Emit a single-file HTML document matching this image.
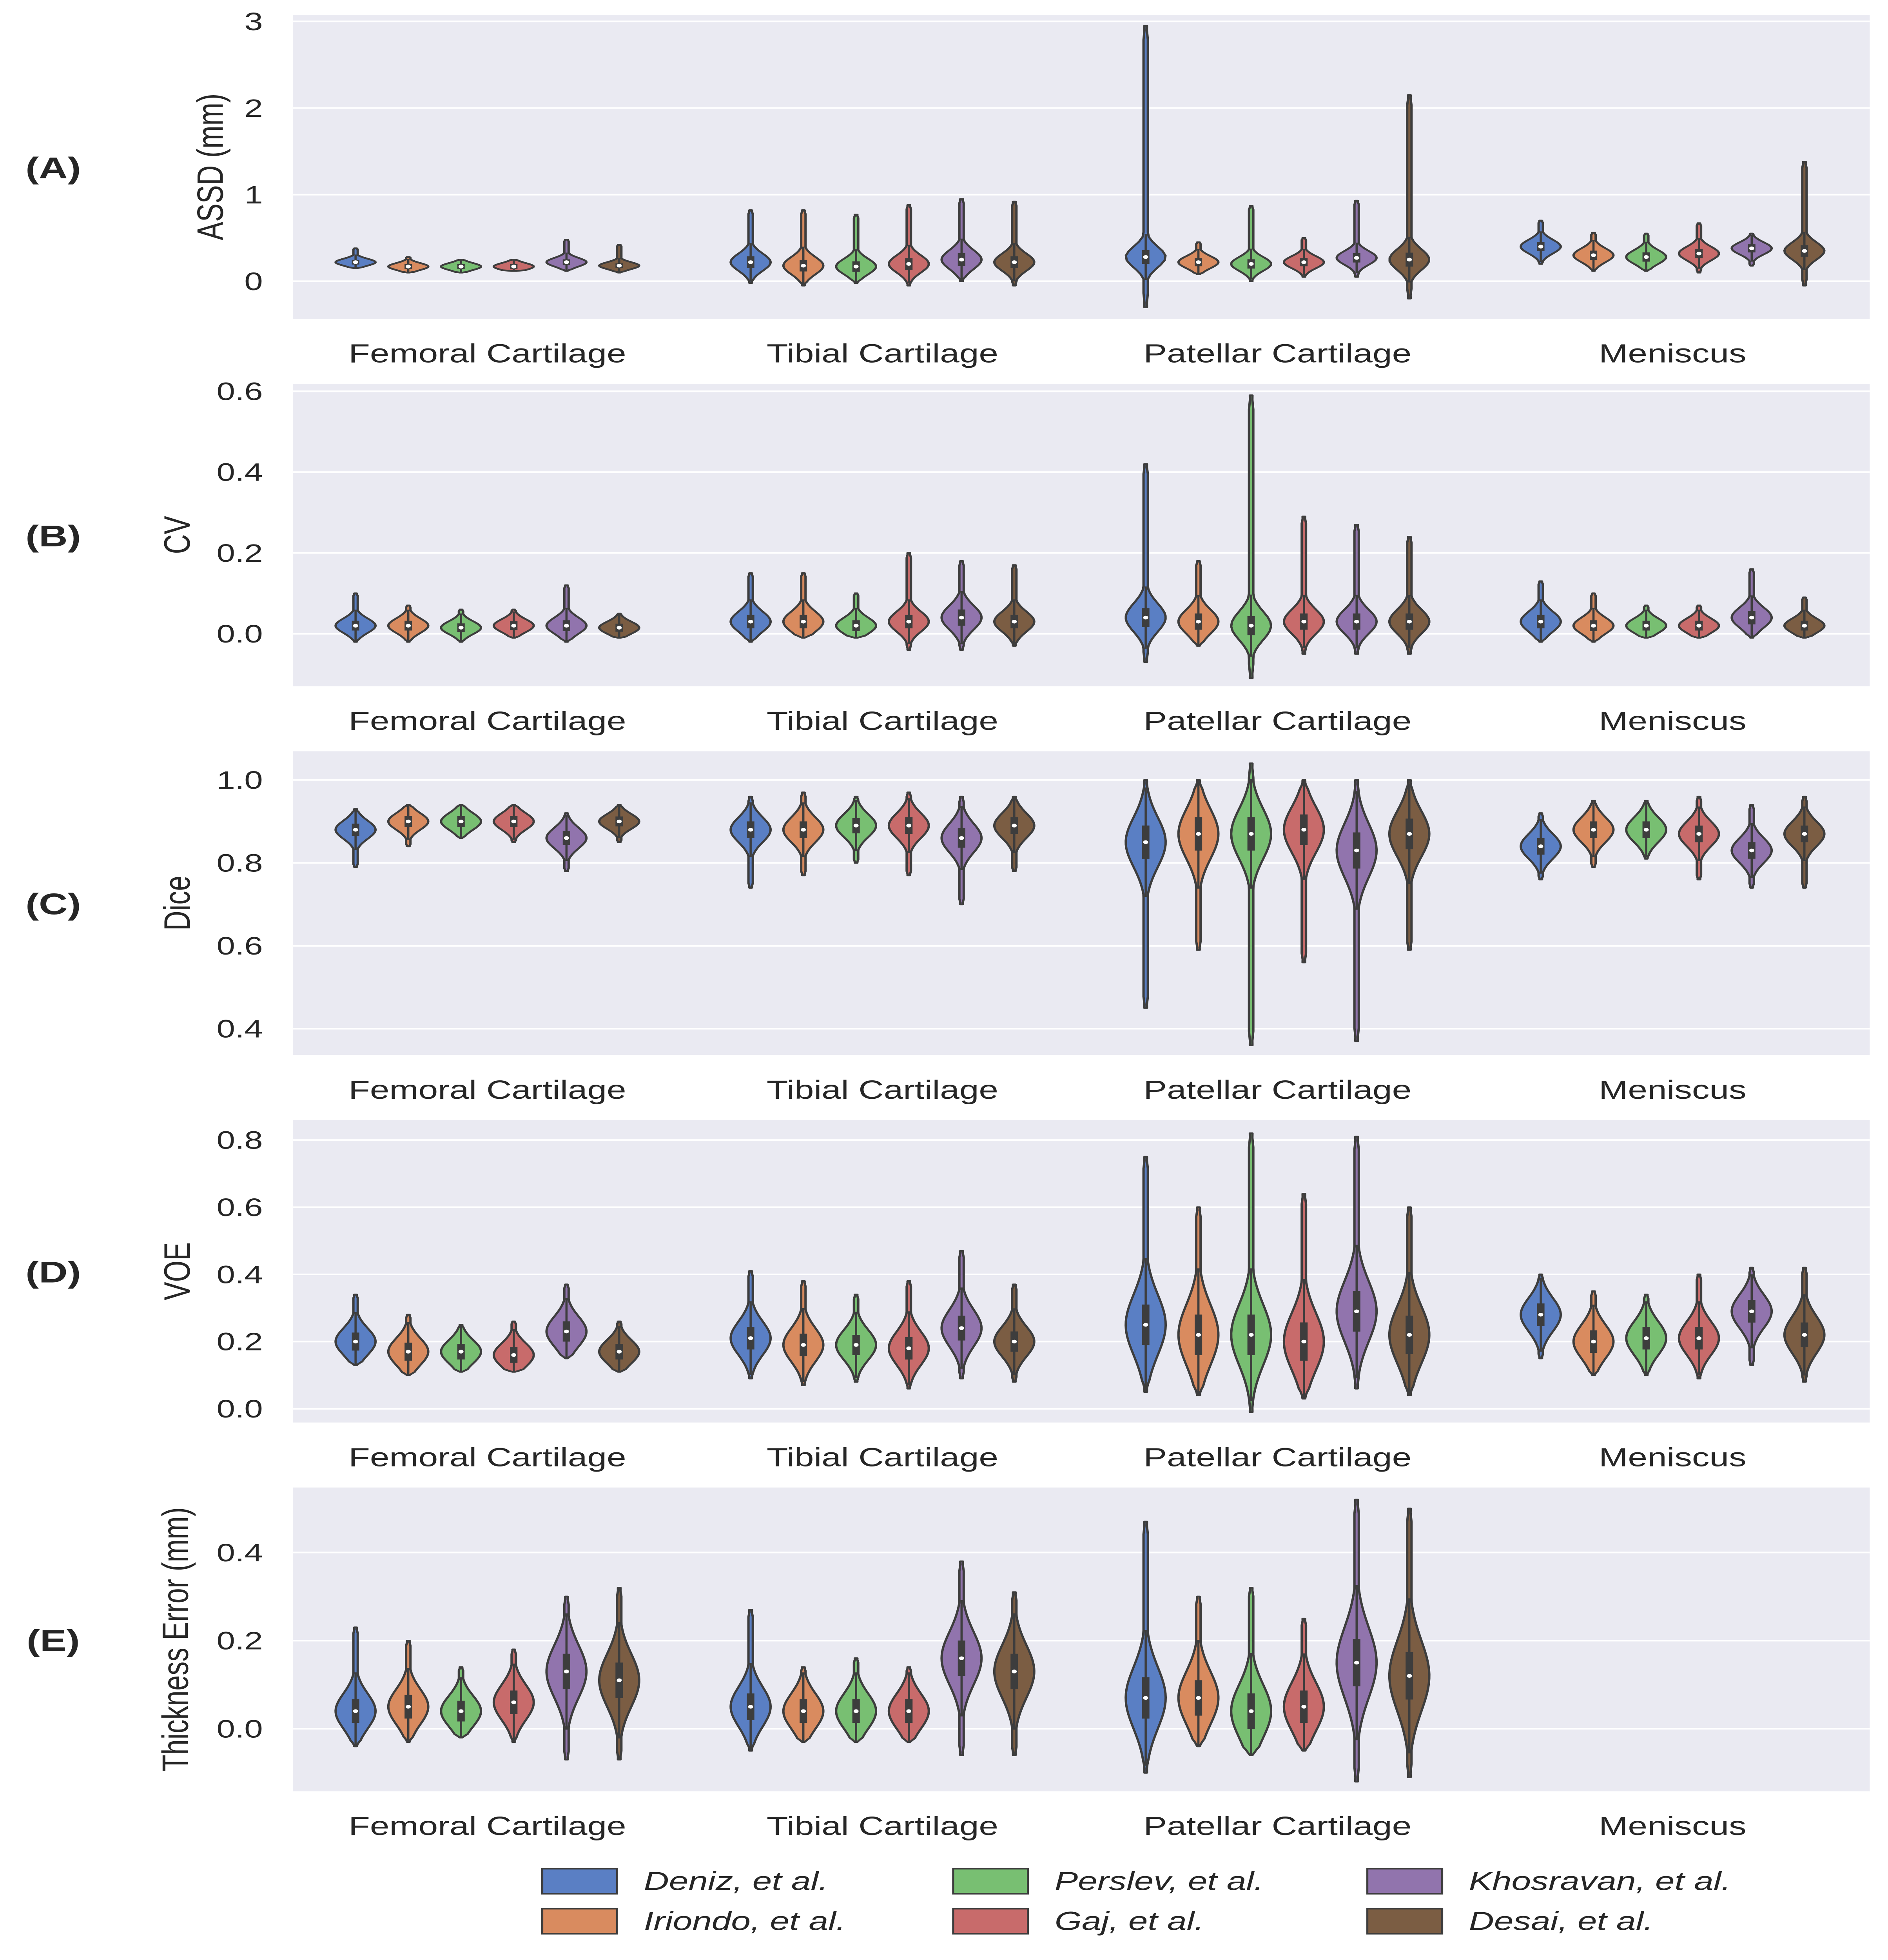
<!DOCTYPE html>
<html><head><meta charset="utf-8"><style>
html,body{margin:0;padding:0;background:#fff;width:100%;height:100%;overflow:hidden;}
svg{display:block;width:100vw;height:100vh;font-family:"Liberation Sans","DejaVu Sans",sans-serif;}
</style></head><body>
<svg id="chart" viewBox="0 0 1135 1568" preserveAspectRatio="none" xmlns="http://www.w3.org/2000/svg"></svg>
<script>
const categories = ["Femoral Cartilage","Tibial Cartilage","Patellar Cartilage","Meniscus"];
const methods = ["Deniz, et al.","Iriondo, et al.","Perslev, et al.","Gaj, et al.","Khosravan, et al.","Desai, et al."];
const colors = ["#5a7fc4","#d98b5f","#78bf72","#c86b6b","#9174ad","#7b5d43"];
const panelLabels = ["(A)","(B)","(C)","(D)","(E)"];
const yTitles = ["ASSD (mm)","CV","Dice","VOE","Thickness Error (mm)"];
const tickA = [0,1,2,3], tickB = [0.0,0.2,0.4,0.6], tickC = [0.4,0.6,0.8,1.0], tickD = [0.0,0.2,0.4,0.6,0.8], tickE = [0.0,0.2,0.4];
const tickLabelsA = ["0","1","2","3"], tickLabelsB = ["0.0","0.2","0.4","0.6"], tickLabelsC = ["0.4","0.6","0.8","1.0"], tickLabelsD = ["0.0","0.2","0.4","0.6","0.8"], tickLabelsE = ["0.0","0.2","0.4"];
const medA = [0.22,0.17,0.17,0.17,0.22,0.18, 0.22,0.18,0.17,0.2,0.25,0.22, 0.28,0.22,0.2,0.22,0.27,0.25, 0.4,0.3,0.28,0.32,0.38,0.35];
const minA = [0.15,0.1,0.1,0.12,0.12,0.1, -0.02,-0.05,-0.02,-0.05,0,-0.05, -0.3,0.08,0,0.05,0.05,-0.2, 0.2,0.12,0.12,0.1,0.18,-0.05];
const maxA = [0.38,0.28,0.25,0.25,0.48,0.42, 0.82,0.82,0.77,0.88,0.95,0.92, 2.95,0.45,0.87,0.5,0.93,2.15, 0.7,0.56,0.55,0.67,0.55,1.38];
const sdA  = [0.04,0.04,0.04,0.04,0.05,0.04, 0.1,0.1,0.09,0.1,0.11,0.1, 0.12,0.07,0.08,0.07,0.08,0.12, 0.08,0.08,0.08,0.08,0.07,0.1];
const medB = [0.02,0.02,0.015,0.02,0.02,0.015, 0.03,0.03,0.02,0.03,0.04,0.03, 0.04,0.03,0.02,0.03,0.03,0.03, 0.03,0.02,0.02,0.02,0.04,0.02];
const minB = [-0.02,-0.02,-0.02,-0.01,-0.02,-0.01, -0.02,-0.01,-0.01,-0.04,-0.04,-0.03, -0.07,-0.03,-0.11,-0.05,-0.05,-0.05, -0.02,-0.02,-0.01,-0.01,-0.01,-0.01];
const maxB = [0.1,0.07,0.06,0.06,0.12,0.05, 0.15,0.15,0.1,0.2,0.18,0.17, 0.42,0.18,0.59,0.29,0.27,0.24, 0.13,0.1,0.07,0.07,0.16,0.09];
const sdB  = [0.018,0.018,0.016,0.016,0.02,0.015, 0.025,0.025,0.02,0.025,0.03,0.025, 0.035,0.03,0.035,0.03,0.03,0.03, 0.025,0.02,0.018,0.018,0.025,0.018];
const medC = [0.88,0.9,0.9,0.9,0.86,0.9, 0.88,0.88,0.89,0.89,0.86,0.89, 0.85,0.87,0.87,0.88,0.83,0.87, 0.84,0.88,0.88,0.87,0.83,0.87];
const minC = [0.79,0.84,0.86,0.85,0.78,0.85, 0.74,0.77,0.8,0.77,0.7,0.78, 0.45,0.59,0.36,0.56,0.37,0.59, 0.76,0.79,0.81,0.76,0.74,0.74];
const maxC = [0.93,0.94,0.94,0.94,0.92,0.94, 0.96,0.97,0.96,0.97,0.96,0.96, 1.0,1.0,1.04,1.0,1.0,1.0, 0.92,0.95,0.95,0.96,0.94,0.96];
const sdC  = [0.022,0.02,0.02,0.02,0.025,0.018, 0.03,0.03,0.028,0.03,0.035,0.03, 0.06,0.06,0.06,0.055,0.065,0.055, 0.03,0.03,0.03,0.03,0.03,0.03];
const medD = [0.2,0.17,0.17,0.16,0.23,0.17, 0.21,0.19,0.19,0.18,0.24,0.2, 0.25,0.22,0.22,0.2,0.29,0.22, 0.28,0.2,0.21,0.21,0.29,0.22];
const minD = [0.13,0.1,0.11,0.11,0.15,0.11, 0.09,0.07,0.08,0.06,0.09,0.08, 0.05,0.04,-0.01,0.03,0.06,0.04, 0.15,0.1,0.1,0.09,0.13,0.08];
const maxD = [0.34,0.28,0.25,0.26,0.37,0.26, 0.41,0.38,0.34,0.38,0.47,0.37, 0.75,0.6,0.82,0.64,0.81,0.6, 0.4,0.35,0.34,0.4,0.42,0.42];
const sdD  = [0.04,0.04,0.035,0.035,0.045,0.035, 0.05,0.05,0.045,0.05,0.055,0.045, 0.09,0.09,0.09,0.085,0.09,0.085, 0.05,0.05,0.05,0.05,0.05,0.055];
const medE = [0.04,0.05,0.04,0.06,0.13,0.11, 0.05,0.04,0.04,0.04,0.16,0.13, 0.07,0.07,0.04,0.05,0.15,0.12];
const minE = [-0.04,-0.03,-0.02,-0.03,-0.07,-0.07, -0.05,-0.03,-0.03,-0.03,-0.06,-0.06, -0.1,-0.04,-0.06,-0.05,-0.12,-0.11];
const maxE = [0.23,0.2,0.14,0.18,0.3,0.32, 0.27,0.14,0.16,0.14,0.38,0.31, 0.47,0.3,0.32,0.25,0.52,0.5];
const sdE  = [0.04,0.04,0.035,0.04,0.06,0.06, 0.045,0.04,0.04,0.04,0.06,0.06, 0.07,0.06,0.06,0.055,0.08,0.08];

const panels = [
 {top:12,bot:255,v0:0,p0:225,scale:69.3,ticks:tickA,tl:tickLabelsA,med:medA,mn:minA,mx:maxA,sd:sdA,w:12,tx:126},
 {top:307,bot:549,v0:0,p0:507,scale:323.3,ticks:tickB,tl:tickLabelsB,med:medB,mn:minB,mx:maxB,sd:sdB,w:12,tx:106},
 {top:601,bot:844,v0:0.4,p0:823,scale:331.7,ticks:tickC,tl:tickLabelsC,med:medC,mn:minC,mx:maxC,sd:sdC,w:12,tx:106},
 {top:896,bot:1138,v0:0,p0:1127,scale:268.75,ticks:tickD,tl:tickLabelsD,med:medD,mn:minD,mx:maxD,sd:sdD,w:12,tx:106},
 {top:1190,bot:1433,v0:0,p0:1383,scale:352.5,ticks:tickE,tl:tickLabelsE,med:medE,mn:minE,mx:maxE,sd:sdE,w:12,tx:105}
];
const svg = document.getElementById('chart');
const NS = "http://www.w3.org/2000/svg";
function mk(tag, attrs, parent){const e=document.createElementNS(NS,tag);for(const k in attrs)e.setAttribute(k,attrs[k]);(parent||svg).appendChild(e);return e;}
const X0=176, X1=1124, catStep=237.5, catStart=293, slot=31.7;
function xCat(c){return catStart+c*catStep;}
panels.forEach((p,pi)=>{
  const yS = v => p.p0 - (v-p.v0)*p.scale;
  const g = mk('g',{});
  
  
  const bg = mk('rect',{x:X0,y:p.top,width:X1-X0,height:p.bot-p.top,fill:'#eaeaf2'},g);
  
  
  p.ticks.forEach((t,i)=>{
    const y=yS(t);
    const gl=mk('line',{x1:X0,x2:X1,y1:y,y2:y,stroke:'#fff','stroke-width':1.3},g);
    
    
    const tx=mk('text',{x:158,y:y+7,'text-anchor':'end','font-size':20,fill:'#262626'},g);
    tx.textContent=p.tl[i];
    
    
  });
  categories.forEach((c,ci)=>{
    const t=mk('text',{x:xCat(ci),y:p.bot+35,'text-anchor':'middle','font-size':21,fill:'#262626'},g);
    t.textContent=c;
    
    
  });
  const yt=mk('text',{x:0,y:0,'text-anchor':'middle','font-size':22,fill:'#262626',transform:`translate(${p.tx+8},${(p.top+p.bot)/2}) rotate(-90)`},g);
  yt.textContent=yTitles[pi];
  
  
  const pl=mk('text',{x:32,y:(p.top+p.bot)/2+9,'text-anchor':'middle','font-size':24,'font-weight':'bold',fill:'#262626'},g);
  pl.textContent=panelLabels[pi];
  
  
  for(let i=0;i<p.med.length;i++){
    const ci=Math.floor(i/6), mi=i%6;
    const cx=xCat(ci)+(mi-2.5)*slot;
    const med=p.med[i], lo=p.mn[i], hi=p.mx[i], sd=p.sd[i];
    const W=p.w, floor=1.3/W, N=60;
    const right=[], left=[];
    for(let k=0;k<=N;k++){
      const v=lo+(hi-lo)*k/N;
      let d=Math.exp(-0.5*Math.pow((v-med)/sd,2));
      let edge=Math.min(k,N-k)/3; edge=Math.min(1,edge);
      d=Math.max(d,floor)*(0.35+0.65*edge);
      if(k===0||k===N) d=floor*0.6;
      const y=yS(v);
      right.push([cx+W*d,y]); left.push([cx-W*d,y]);
    }
    const pts=right.concat(left.reverse()).map(q=>q[0].toFixed(2)+','+q[1].toFixed(2)).join(' ');
    const vg=mk('g',{},g);
    
    
    mk('polygon',{points:pts,fill:colors[mi],stroke:'#3d3d3d','stroke-width':1.4,'stroke-linejoin':'round'},vg);
    const q1=Math.max(lo,med-0.67*sd), q3=Math.min(hi,med+0.67*sd);
    const w1=Math.max(lo,med-2.2*sd), w2=Math.min(hi,med+2.2*sd);
    mk('line',{x1:cx,x2:cx,y1:yS(w1),y2:yS(w2),stroke:'#3d3d3d','stroke-width':1.3},vg);
    mk('line',{x1:cx,x2:cx,y1:yS(q1),y2:yS(q3),stroke:'#3d3d3d','stroke-width':4.5},vg);
    mk('circle',{cx:cx,cy:yS(med),r:1.5,fill:'#fff'},vg);
  }
});
const legCols=[326,573,822], legRows=[1505,1537];
const lg=mk('g',{});


methods.forEach((m,i)=>{
  const col=Math.floor(i/2), row=i%2;
  const x=legCols[col], y=legRows[row];
  const e=mk('g',{},lg);
  
  
  mk('rect',{x:x,y:y-10,width:45,height:20,fill:colors[i],stroke:'#3d3d3d','stroke-width':1.2},e);
  const t=mk('text',{x:x+61,y:y+7,'font-size':21,'font-style':'italic',fill:'#262626'},e);
  t.textContent=m;
});
</script>
</body></html>
